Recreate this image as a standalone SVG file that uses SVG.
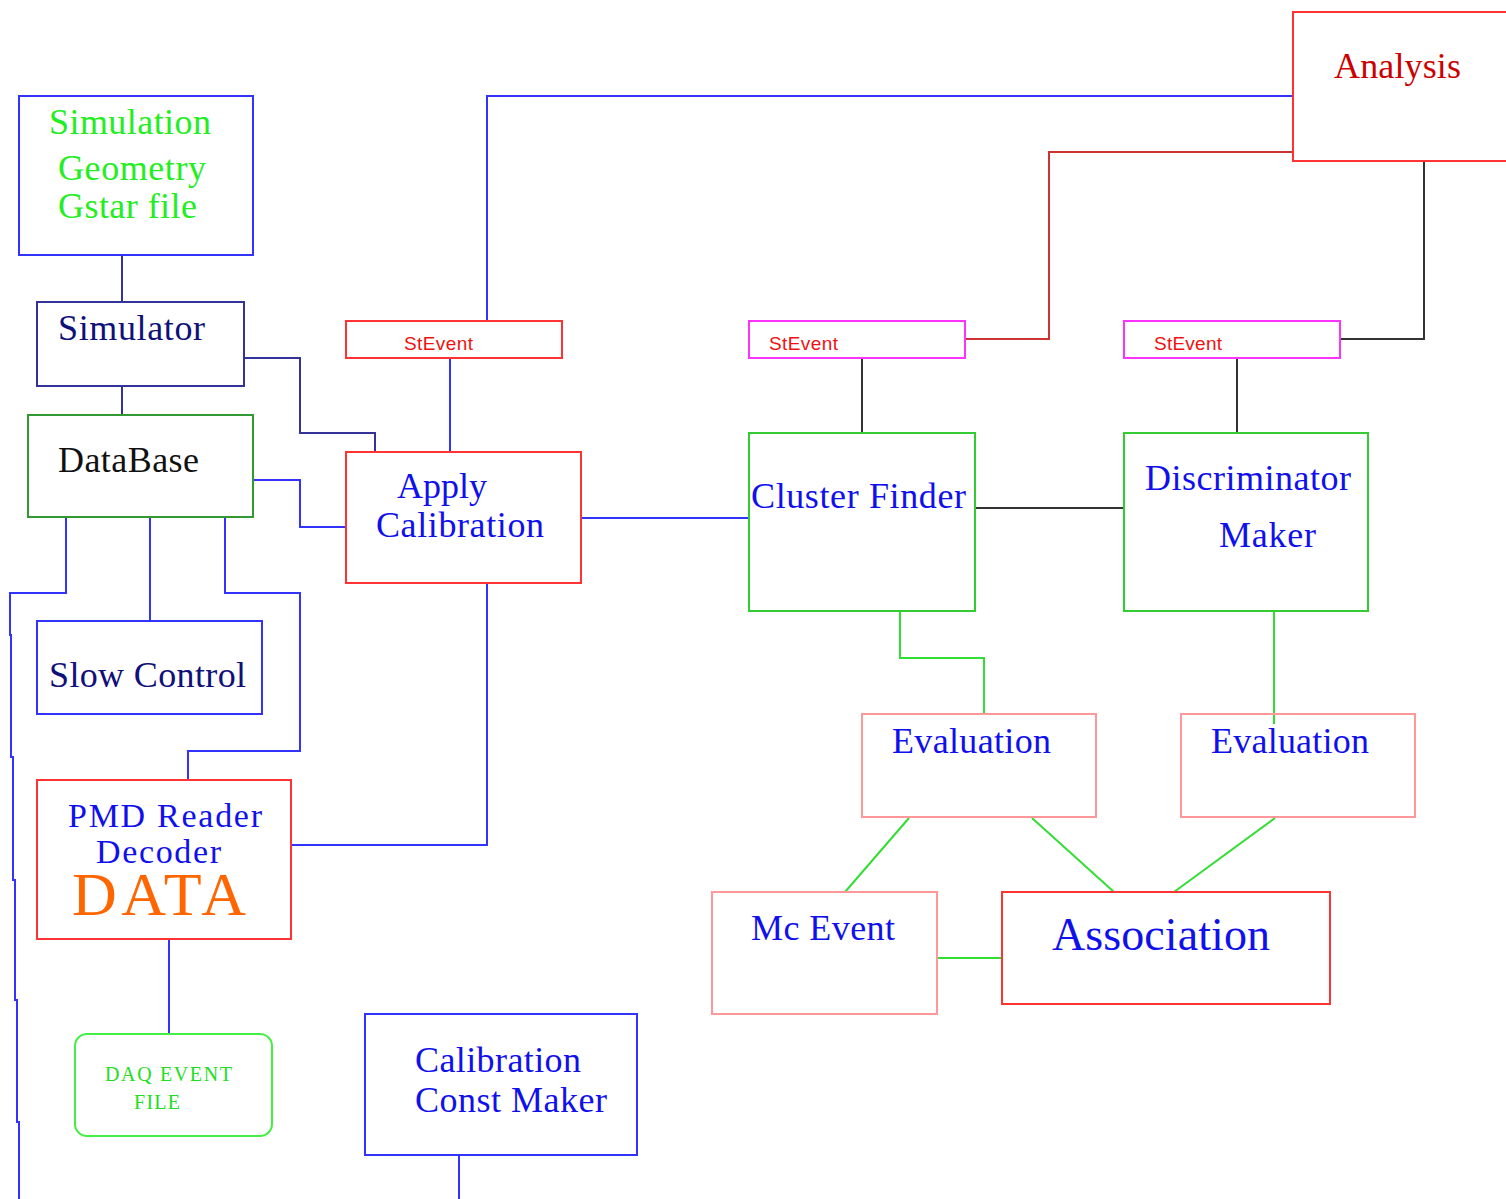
<svg xmlns="http://www.w3.org/2000/svg" width="1506" height="1199" viewBox="0 0 1506 1199">
<style>
rect{fill:none;stroke-width:2}
.b{stroke:#3333ff}.nv{stroke:#333399}.dg{stroke:#339933}.g{stroke:#33cc33}.lg{stroke:#44ee44}
.r{stroke:#ff3333}.pk{stroke:#ff9999}.mg{stroke:#ff33ff}
text{font-family:"Liberation Serif","Times New Roman",serif}
.t{fill:#1010ee;font-size:36px}
.tn{fill:#10107a;font-size:36px}
.tg{fill:#22ee22;font-size:36px}
.st{fill:#ee1111;font-family:"Liberation Sans",Arial,sans-serif;font-size:19px}
#connectors polyline,#connectors line{fill:none;stroke-width:2}
.cb{stroke:#3333ff}.cn{stroke:#333399}.cg{stroke:#33dd33}.ck{stroke:#333333}.cr{stroke:#cc3333}
</style>
<rect width="1506" height="1199" fill="#ffffff" stroke="none"/>
<g id="connectors">
<line class="cn" x1="122" y1="255" x2="122" y2="302"/>
<line class="cn" x1="122" y1="386" x2="122" y2="415"/>
<polyline class="cn" points="244,358 300,358 300,433 375,433 375,452"/>
<polyline class="cb" points="253,480 300,480 300,527 346,527"/>
<polyline class="cb" points="487,321 487,96 1293,96"/>
<line class="cb" x1="450" y1="358" x2="450" y2="452"/>
<line class="cb" x1="581" y1="518" x2="749" y2="518"/>
<polyline class="cb" points="487,583 487,845 291,845"/>
<polyline class="cr" points="1293,152 1049,152 1049,339 965,339"/>
<polyline class="ck" points="1424,161 1424,339 1340,339"/>
<line class="ck" x1="862" y1="358" x2="862" y2="433"/>
<line class="ck" x1="1237" y1="358" x2="1237" y2="433"/>
<line class="ck" x1="975" y1="508" x2="1124" y2="508"/>
<polyline class="cg" points="900,611 900,658 984,658 984,714"/>
<line class="cg" x1="1274" y1="611" x2="1274" y2="724"/>
<line class="cg" x1="909" y1="818" x2="845" y2="892"/>
<line class="cg" x1="1032" y1="818" x2="1114" y2="892"/>
<line class="cg" x1="1275" y1="818" x2="1174" y2="892"/>
<line class="cg" x1="937" y1="958" x2="1002" y2="958"/>
<polyline class="cb" points="66,517 66,593 10,593 10,635 11,635 11,757 13,757 13,880 15,880 15,1000 17,1000 17,1122 19,1122 19,1199"/>
<line class="cb" x1="150" y1="517" x2="150" y2="621"/>
<polyline class="cb" points="225,517 225,593 300,593 300,751 188,751 188,780"/>
<line class="cb" x1="169" y1="939" x2="169" y2="1034"/>
<line class="cb" x1="459" y1="1155" x2="459" y2="1199"/>
</g>
<g id="simulation">
<rect class="b" x="19" y="96" width="234" height="159"/>
<text class="tg" x="49" y="134" textLength="162">Simulation</text>
<text class="tg" x="58" y="180" textLength="148">Geometry</text>
<text class="tg" x="58" y="218" textLength="139">Gstar file</text>
</g>
<g id="simulator">
<rect class="nv" x="37" y="302" width="207" height="84"/>
<text class="tn" x="58" y="340" textLength="147">Simulator</text>
</g>
<g id="database">
<rect class="dg" x="28" y="415" width="225" height="102"/>
<text x="58" y="472" style="font-size:36px" fill="#111111" textLength="141">DataBase</text>
</g>
<g id="stevent1">
<rect class="r" x="346" y="321" width="216" height="37"/>
<text class="st" x="404" y="350" textLength="69">StEvent</text>
</g>
<g id="apply-calibration">
<rect class="r" x="346" y="452" width="235" height="131"/>
<text class="t" x="397" y="498" textLength="90">Apply</text>
<text class="t" x="376" y="537" textLength="168">Calibration</text>
</g>
<g id="analysis">
<rect class="r" x="1293" y="12" width="220" height="149"/>
<text x="1334" y="78" style="font-size:36px" fill="#cc0000" textLength="127">Analysis</text>
</g>
<g id="stevent2">
<rect class="mg" x="749" y="321" width="216" height="37"/>
<text class="st" x="769" y="350" textLength="69">StEvent</text>
</g>
<g id="stevent3">
<rect class="mg" x="1124" y="321" width="216" height="37"/>
<text class="st" x="1154" y="350" textLength="68">StEvent</text>
</g>
<g id="cluster-finder">
<rect class="g" x="749" y="433" width="226" height="178"/>
<text class="t" x="751" y="508" textLength="215">Cluster Finder</text>
</g>
<g id="discriminator-maker">
<rect class="g" x="1124" y="433" width="244" height="178"/>
<text class="t" x="1145" y="490" textLength="206">Discriminator</text>
<text class="t" x="1219" y="547" textLength="97">Maker</text>
</g>
<g id="evaluation1">
<rect class="pk" x="862" y="714" width="234" height="103"/>
<text class="t" x="892" y="753" textLength="159">Evaluation</text>
</g>
<g id="evaluation2">
<rect class="pk" x="1181" y="714" width="234" height="103"/>
<text class="t" x="1211" y="753" textLength="158">Evaluation</text>
</g>
<g id="mc-event">
<rect class="pk" x="712" y="892" width="225" height="122"/>
<text class="t" x="751" y="940" textLength="144">Mc Event</text>
</g>
<g id="association">
<rect class="r" x="1002" y="892" width="328" height="112"/>
<text class="t" x="1052" y="950" style="font-size:46px" textLength="218">Association</text>
</g>
<g id="slow-control">
<rect class="b" x="37" y="621" width="225" height="93"/>
<text class="tn" x="49" y="687" textLength="197">Slow Control</text>
</g>
<g id="pmd-reader">
<rect class="r" x="37" y="780" width="254" height="159"/>
<text class="t" x="68" y="827" style="font-size:34px" textLength="194">PMD Reader</text>
<text class="t" x="96" y="863" style="font-size:34px" textLength="125">Decoder</text>
<text x="72" y="915" style="font-size:62px" fill="#ff6600" textLength="174">DATA</text>
</g>
<g id="daq-event-file">
<rect x="75" y="1034" width="197" height="102" rx="12" stroke="#44ee44"/>
<text x="105" y="1081" style="font-size:20px" fill="#22dd22" textLength="127">DAQ EVENT</text>
<text x="134" y="1109" style="font-size:20px" fill="#22dd22" textLength="46">FILE</text>
</g>
<g id="calibration-const-maker">
<rect class="b" x="365" y="1014" width="272" height="141"/>
<text class="t" x="415" y="1072" textLength="166">Calibration</text>
<text class="t" x="415" y="1112" textLength="192">Const Maker</text>
</g>
</svg>
